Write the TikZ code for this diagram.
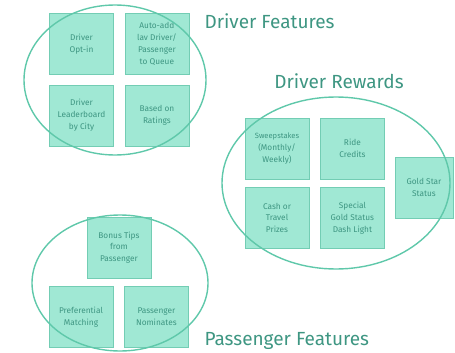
\documentclass[tikz,border=0pt]{standalone}
\usepackage{fontspec}
\setmainfont{Fira Sans}
\usetikzlibrary{positioning}
\definecolor{tealfill}{RGB}{160,232,212}
\definecolor{tealedge}{RGB}{115,205,180}
\definecolor{tealtext}{RGB}{62,150,130}
\definecolor{tealring}{RGB}{95,200,170}

\begin{document}
\begin{tikzpicture}[x=1pt, y=-1pt,
    feature/.style={draw=tealedge, fill=tealfill, minimum width=64pt,
                    minimum height=61pt, inner sep=1pt, align=center,
                    text=tealtext, font=\fontsize{8.3}{11.8}\selectfont},
    ring/.style={draw=tealring, line width=1.4pt},
    heading/.style={text=tealtext, font=\fontsize{19}{22}\selectfont}
]
    \useasboundingbox (0,0) rectangle (455,353);

    % Driver features
    \node[feature] (optin) at (81.5,44) {Driver\\Opt-in};
    \node[feature, right=11pt of optin] (autoadd) {Auto-add\\lav Driver/\\Passenger\\to Queue};
    \node[feature, below=10pt of optin] (leaderboard) {Driver\\Leaderboard\\by City};
    \node[feature, right=11pt of leaderboard] (ratings) {Based on\\Ratings};
    \draw[ring] (115,80) ellipse [x radius=91pt, y radius=75pt];
    \node[heading, anchor=west] (drvfeat) at (201,21) {Driver Features};

    % Driver rewards
    \node[feature] (sweeps) at (277,148.5) {\fontsize{7.6}{11.8}\selectfont Sweepstakes\\(Monthly/\\Weekly)};
    \node[feature, right=11pt of sweeps] (credits) {Ride\\Credits};
    \node[feature, below=8pt of sweeps] (prizes) {Cash or\\Travel\\Prizes};
    \node[feature, right=11pt of prizes] (dashlight) {Special\\Gold Status\\Dash Light};
    \node[feature, minimum width=58pt] (goldstar) at (424,187.5) {Gold Star\\Status};
    \draw[ring] (336,183) ellipse [x radius=114pt, y radius=86pt];
    \node[heading] (rewards) at (339,81) {Driver Rewards};

    % Passenger features
    \node[feature] (bonus) at (119,247.5) {Bonus Tips\\from\\Passenger};
    \node[feature] (matching) at (81,317) {Preferential\\Matching};
    \node[feature, right=11pt of matching] (nominates) {Passenger\\Nominates};
    \draw[ring] (120,283) ellipse [x radius=88pt, y radius=68pt];
    \node[heading, anchor=west] (psgfeat) at (201,341) {Passenger Features};
\end{tikzpicture}
\end{document}
